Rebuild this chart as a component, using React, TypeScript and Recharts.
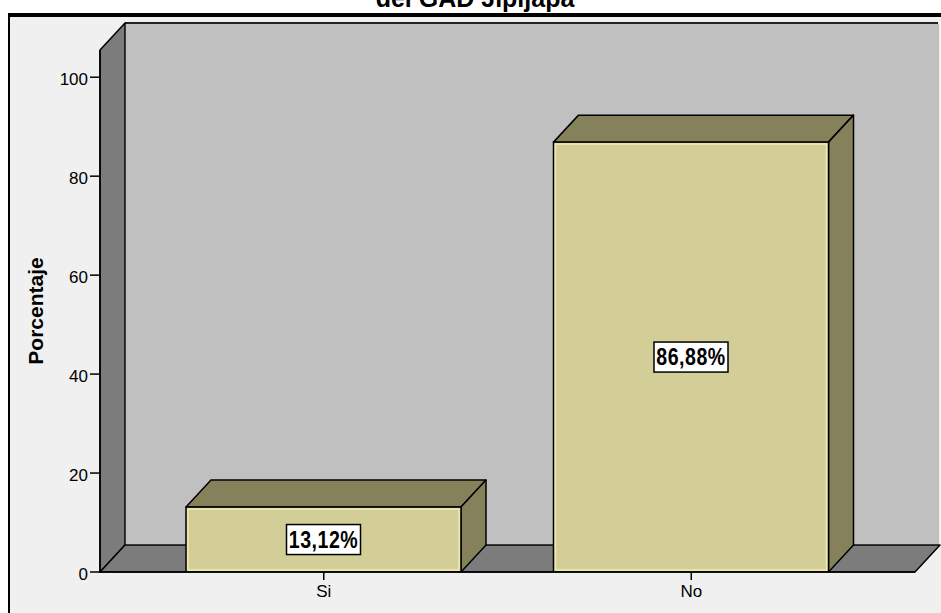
import React from 'react';
import { BarChart, Bar, XAxis, YAxis, ReferenceArea, LabelList } from 'recharts';

const categories = ['Si', 'No'];
const percentages = [13.12, 86.88];
const yTicks = [0, 20, 40, 60, 80, 100];
const chartTitle = 'del GAD Jipijapa';
const yAxisTitle = 'Porcentaje';

const data = categories.map((c, i) => ({ category: c, value: percentages[i] }));

const W = 941;
const H = 613;
const DX = 25;
const DY = 27;
const XPAD = 40;
const FRONT = '#d3ce97';
const SHADE = '#84815b';
const WALL = '#c0c0c0';
const DARK = '#7c7c7c';
const FONT = '"Liberation Sans", Arial, sans-serif';

function Walls(props: any) {
  const x = props.x - XPAD;
  const width = props.width + 2 * XPAD;
  const { y, height } = props;
  const b = y + height;
  return (
    <g>
      <rect x={x + DX} y={y - DY} width={width} height={height} fill={WALL} stroke="#fafafa" strokeWidth={1.5} />
      <line x1={x + DX} y1={y - DY} x2={x + DX + width - 2} y2={y - DY} stroke="#222" strokeWidth={2} />
      <polygon
        points={`${x},${b} ${x},${y} ${x + DX},${y - DY} ${x + DX},${b - DY}`}
        fill={DARK}
        stroke="#000"
        strokeWidth={1.5}
        strokeLinejoin="round"
      />
      <polygon
        points={`${x},${b} ${x + width},${b} ${x + width + DX},${b - DY} ${x + DX},${b - DY}`}
        fill={DARK}
        stroke="#000"
        strokeWidth={1.5}
        strokeLinejoin="round"
      />
    </g>
  );
}

function Bar3D(props: any) {
  const { x, y, width, height } = props;
  const b = y + height;
  const r = x + width;
  return (
    <g>
      <polygon
        points={`${x},${y} ${x + DX},${y - DY} ${r + DX},${y - DY} ${r},${y}`}
        fill={SHADE}
        stroke="#000"
        strokeWidth={1.5}
        strokeLinejoin="round"
      />
      <polygon
        points={`${r},${y} ${r + DX},${y - DY} ${r + DX},${b - DY} ${r},${b}`}
        fill={SHADE}
        stroke="#000"
        strokeWidth={1.5}
        strokeLinejoin="round"
      />
      <rect x={x} y={y} width={width} height={height} fill={FRONT} stroke="#000" strokeWidth={1.5} />
      <rect x={x + 2} y={y + 2} width={width - 4} height={height - 4} fill="none" stroke="#efeab4" strokeWidth={1.5} />
    </g>
  );
}

function ValueLabel(props: any) {
  const { x, y, width, height, value } = props;
  const cx = x + width / 2;
  const cy = y + height / 2;
  const txt = Number(value).toFixed(2).replace('.', ',') + '%';
  return (
    <g>
      <rect x={cx - 37} y={cy - 15} width={74} height={30} fill="#fff" stroke="#000" strokeWidth={1.5} />
      <text
        transform={`translate(${cx},${cy + 8.2}) scale(0.85,1)`}
        textAnchor="middle"
        fontFamily={FONT}
        fontWeight="bold"
        fontSize={23}
        letterSpacing={0.6}
        fill="#000"
      >
        {txt}
      </text>
    </g>
  );
}

export default function App() {
  return (
    <div style={{ position: 'absolute', left: 0, top: 0, width: W, height: H, background: '#fff' }}>
      <svg width={W} height={H} style={{ position: 'absolute', left: 0, top: 0 }}>
        <rect x={9} y={15} width={940} height={610} fill="#f0f0f0" stroke="#000" strokeWidth={2} />
        <line x1={8} y1={15} x2={W} y2={15} stroke="#000" strokeWidth={4} />
        <text x={475} y={6.5} textAnchor="middle" fontFamily={FONT} fontWeight="bold" fontSize={25} fill="#000">
          {chartTitle}
        </text>
        <text
          transform="translate(43,311) rotate(-90)"
          textAnchor="middle"
          fontFamily={FONT}
          fontWeight="bold"
          fontSize={21}
          fill="#000"
        >
          {yAxisTitle}
        </text>
      </svg>
      <div style={{ position: 'absolute', left: 0, top: 0 }}>
        <BarChart width={W} height={H} data={data} margin={{ top: 50, right: 26, bottom: 11, left: 40 }}>
          <ReferenceArea
            y1={0}
            y2={105.5}
            ifOverflow="visible"
            shape={(p: any) => <Walls {...p} />}
            zIndex={-200}
          />
          <XAxis
            dataKey="category"
            padding={{ left: XPAD, right: XPAD }}
            height={30}
            tickSize={8}
            tickMargin={5}
            axisLine={{ stroke: '#000', strokeWidth: 1.5 }}
            tickLine={{ stroke: '#000', strokeWidth: 1.5 }}
            tick={{ fill: '#000', fontSize: 17, fontFamily: FONT }}
          />
          <YAxis
            domain={[0, 105.5]}
            ticks={yTicks}
            allowDataOverflow
            width={60}
            tickSize={10}
            tickMargin={2}
            axisLine={{ stroke: '#000', strokeWidth: 1.5 }}
            tickLine={{ stroke: '#000', strokeWidth: 1.5 }}
            tick={{ fill: '#000', fontSize: 17, fontFamily: FONT, dy: 2 }}
          />
          <Bar dataKey="value" barSize={275} shape={(p: any) => <Bar3D {...p} />} isAnimationActive={false}>
            <LabelList dataKey="value" content={(p: any) => <ValueLabel {...p} />} />
          </Bar>
        </BarChart>
      </div>
    </div>
  );
}
